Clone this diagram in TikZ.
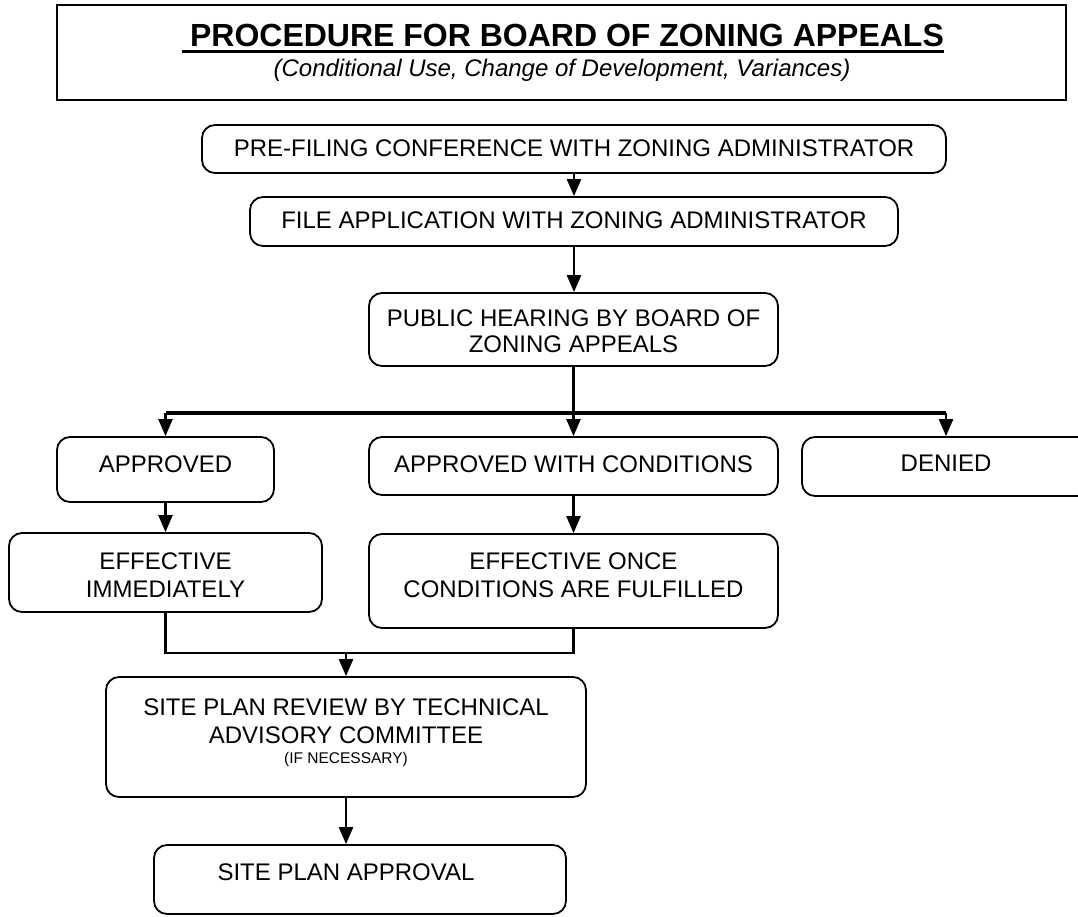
\documentclass[tikz,border=0pt]{standalone}
\usepackage{fontspec}
\setmainfont{Liberation Sans}
\usetikzlibrary{arrows.meta}
\begin{document}
\begin{tikzpicture}[x=1pt,y=-1pt,
  stepbox/.style={draw=black, line width=1.8pt, rounded corners=13pt, inner sep=0pt},
  titlebox/.style={draw=black, line width=2pt, inner sep=0pt},
  boxtext/.style={anchor=base, inner sep=0pt, font=\fontsize{24}{27.5}\selectfont},
  smalltext/.style={anchor=base, inner sep=0pt, font=\fontsize{15.5}{18}\selectfont},
  conn/.style={line width=2.4pt},
  arr/.style={line width=2.4pt, -{Triangle[length=17pt,width=14pt]}},
  bus/.style={line width=3.6pt}
]
\useasboundingbox (0,0) rectangle (1078,916);
% title
\node[titlebox, minimum width=1009pt, minimum height=95pt] (tb) at (561.5,52.5) {};
\node[anchor=base, inner sep=0pt, font=\fontsize{32}{38}\bfseries] (ttl) at (567,46) {PROCEDURE FOR BOARD OF ZONING APPEALS};
\draw[line width=3.2pt] (182,51.5) -- (944,51.5);
\node[anchor=base, inner sep=0pt, font=\fontsize{24}{28}\itshape] (sub) at (562,76) {(Conditional Use, Change of Development, Variances)};
% boxes
\node[stepbox, minimum width=744pt, minimum height=48pt] (pf) at (574,149) {};
\node[boxtext] (pft) at (574,156) {PRE-FILING CONFERENCE WITH ZONING ADMINISTRATOR};
\node[stepbox, minimum width=648pt, minimum height=49pt] (fa) at (574,221.5) {};
\node[boxtext] (fat) at (574,228) {FILE APPLICATION WITH ZONING ADMINISTRATOR};
\node[stepbox, minimum width=409pt, minimum height=73pt] (ph) at (573.5,329.5) {};
\node[boxtext] (pht1) at (573.5,326) {PUBLIC HEARING BY BOARD OF};
\node[boxtext] (pht2) at (573.5,352.5) {ZONING APPEALS};
\node[stepbox, minimum width=217pt, minimum height=65pt] (ap) at (165.5,469.5) {};
\node[boxtext] (apt) at (165.5,472) {APPROVED};
\node[stepbox, minimum width=409pt, minimum height=58pt] (awc) at (573.5,466) {};
\node[boxtext] (awct) at (573.5,472) {APPROVED WITH CONDITIONS};
\node[stepbox, minimum width=288pt, minimum height=59pt] (den) at (946,466.5) {};
\node[boxtext] (dent) at (946,471) {DENIED};
\node[stepbox, minimum width=313pt, minimum height=79pt] (ei) at (165.5,572.5) {};
\node[boxtext] (eit1) at (165.5,569) {EFFECTIVE};
\node[boxtext] (eit2) at (165.5,597) {IMMEDIATELY};
\node[stepbox, minimum width=409pt, minimum height=94pt] (eo) at (573.5,581) {};
\node[boxtext] (eot1) at (573.5,569) {EFFECTIVE ONCE};
\node[boxtext] (eot2) at (573.5,597) {CONDITIONS ARE FULFILLED};
\node[stepbox, minimum width=480pt, minimum height=120pt] (spr) at (346,737) {};
\node[boxtext] (sprt1) at (346,715) {SITE PLAN REVIEW BY TECHNICAL};
\node[boxtext] (sprt2) at (346,743) {ADVISORY COMMITTEE};
\node[smalltext] (sprt3) at (346,763) {(IF NECESSARY)};
\node[stepbox, minimum width=412pt, minimum height=69pt] (spa) at (360,879.5) {};
\node[boxtext] (spat) at (346,880) {SITE PLAN APPROVAL};
% connectors
\coordinate (busy) at (0,413);
\coordinate (joiny) at (0,653);
\draw[arr] (pf.south) -- (pf.south |- fa.north);
\draw[arr] (fa.south) -- (fa.south |- ph.north);
\draw[conn] (ph.south) -- (ph.south |- busy);
\draw[bus] (ap.north |- busy) -- (den.north |- busy);
\draw[arr] (ap.north |- busy) -- (ap.north);
\draw[arr] (awc.north |- busy) -- (awc.north);
\draw[arr] (den.north |- busy) -- (den.north);
\draw[arr] (ap.south) -- (ap.south |- ei.north);
\draw[arr] (awc.south) -- (awc.south |- eo.north);
\draw[conn] (ei.south) -- (ei.south |- joiny) -- (eo.south |- joiny) -- (eo.south);
\draw[arr] (spr.north |- joiny) -- (spr.north);
\draw[arr] (spr.south) -- (spr.south |- spa.north);
\end{tikzpicture}
\end{document}
